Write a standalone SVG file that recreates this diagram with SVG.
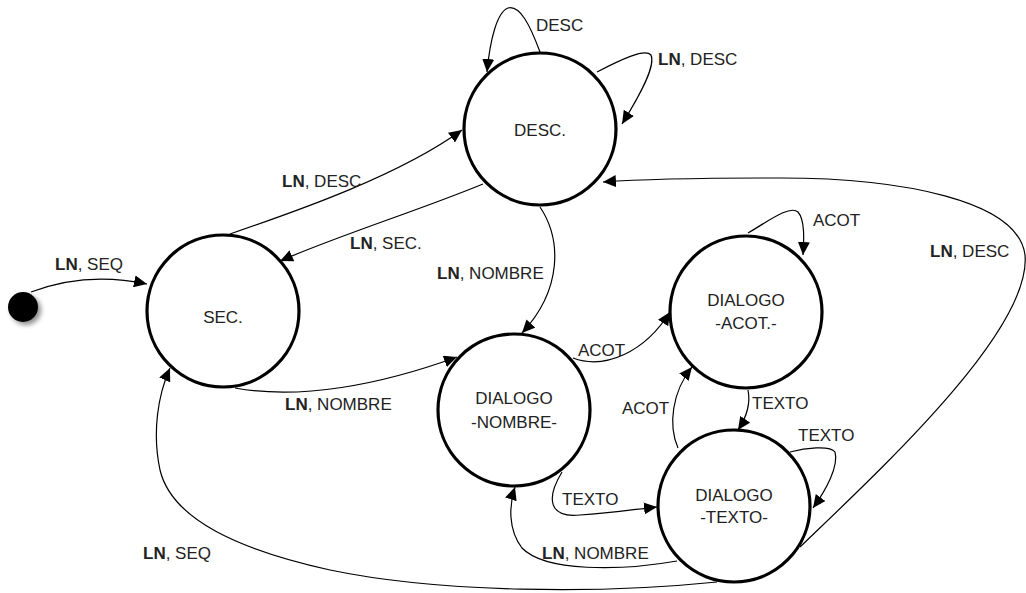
<svg xmlns="http://www.w3.org/2000/svg" width="1026" height="593" viewBox="0 0 1026 593">
  <style>
    .state { fill: #ffffff; stroke: #000000; stroke-width: 3.2; }
    .name { font-family: "Liberation Sans", Arial, sans-serif; font-size: 17px; fill: #222222; text-anchor: middle; }
    .edge { fill: none; stroke: #000000; stroke-width: 1.2; marker-end: url(#arrow); }
    .lbl { font-family: "Liberation Sans", Arial, sans-serif; font-size: 17px; fill: #222222; }
    .lbl tspan.b { font-weight: bold; }
  </style>
  <defs>
    <marker id="arrow" markerUnits="userSpaceOnUse" markerWidth="14" markerHeight="12" refX="13" refY="6" orient="auto">
      <path d="M0,0 L13,6 L0,12 Z" fill="#000000"/>
    </marker>
    <filter id="shadow" x="-50%" y="-50%" width="200%" height="200%">
      <feGaussianBlur in="SourceAlpha" stdDeviation="2.5"/>
      <feOffset dx="3" dy="3" result="b"/>
      <feComponentTransfer><feFuncA type="linear" slope="0.45"/></feComponentTransfer>
      <feMerge><feMergeNode/><feMergeNode in="SourceGraphic"/></feMerge>
    </filter>
  </defs>
  <rect width="1026" height="593" fill="#ffffff"/>

  <!-- transitions -->
  <g id="connectors">
    <path class="edge" d="M31,292 C60,281 100,274 147,284"/>
    <path class="edge" d="M230,234 C300,210 400,175 462,130"/>
    <path class="edge" d="M483,184 C420,210 340,235 280,261"/>
    <path class="edge" d="M540,207 C562,240 562,290 522,333"/>
    <path class="edge" d="M235,388 C300,400 380,385 457,357"/>
    <path class="edge" d="M573,358 C605,370 645,352 670,312"/>
    <path class="edge" d="M748,390 C751,405 746,418 738,430"/>
    <path class="edge" d="M678,448 C668,425 672,392 692,367"/>
    <path class="edge" d="M562,472 C545,500 550,518 580,515 C610,513 630,510 657,507"/>
    <path class="edge" d="M677,561 C620,571 545,572 522,548 C508,530 509,505 515,487"/>
    <path class="edge" d="M717,582 C600,594 440,593 330,570 C240,550 172,520 160,470 C152,432 158,395 170,368"/>
    <path class="edge" d="M800,547 C880,470 1032,330 1025,255 C1018,200 900,178 780,178 C700,178 645,179 603,182"/>
    <path class="edge" d="M540,52 C530,25 520,5 508,8 C497,12 490,40 487,72"/>
    <path class="edge" d="M597,72 C620,60 645,48 651,55 C656,66 640,95 622,124"/>
    <path class="edge" d="M748,233 C770,220 790,205 798,212 C805,220 804,240 803,255"/>
    <path class="edge" d="M790,452 C805,448 830,445 835,452 C839,466 826,490 813,508"/>

    <text class="lbl" x="55" y="270"><tspan class="b">LN</tspan>, SEQ</text>
    <text class="lbl" x="282" y="187"><tspan class="b">LN</tspan>, DESC</text>
    <text class="lbl" x="350" y="249"><tspan class="b">LN</tspan>, SEC.</text>
    <text class="lbl" x="437" y="279"><tspan class="b">LN</tspan>, NOMBRE</text>
    <text class="lbl" x="285" y="410"><tspan class="b">LN</tspan>, NOMBRE</text>
    <text class="lbl" x="578" y="356">ACOT</text>
    <text class="lbl" x="752" y="409">TEXTO</text>
    <text class="lbl" x="622" y="414">ACOT</text>
    <text class="lbl" x="562" y="505">TEXTO</text>
    <text class="lbl" x="542" y="559"><tspan class="b">LN</tspan>, NOMBRE</text>
    <text class="lbl" x="143" y="559"><tspan class="b">LN</tspan>, SEQ</text>
    <text class="lbl" x="930" y="257"><tspan class="b">LN</tspan>, DESC</text>
    <text class="lbl" x="536" y="31">DESC</text>
    <text class="lbl" x="658" y="65"><tspan class="b">LN</tspan>, DESC</text>
    <text class="lbl" x="813" y="226">ACOT</text>
    <text class="lbl" x="798" y="441">TEXTO</text>
  </g>

  <!-- initial pseudo-state -->
  <g id="start">
    <circle cx="23" cy="307" r="15" fill="#000000" filter="url(#shadow)"/>
  </g>

  <g id="desc">
    <circle class="state" cx="540" cy="129" r="76"/>
    <text class="name" x="540" y="136">DESC.</text>
  </g>

  <g id="sec">
    <circle class="state" cx="223" cy="311" r="76"/>
    <text class="name" x="223" y="323">SEC.</text>
  </g>

  <g id="dialogo-nombre">
    <circle class="state" cx="514" cy="410" r="76"/>
    <text class="name" x="514" y="404">DIALOGO</text>
    <text class="name" x="514" y="428">-NOMBRE-</text>
  </g>

  <g id="dialogo-acot">
    <circle class="state" cx="746" cy="312" r="76"/>
    <text class="name" x="746" y="306">DIALOGO</text>
    <text class="name" x="746" y="329">-ACOT.-</text>
  </g>

  <g id="dialogo-texto">
    <circle class="state" cx="734" cy="506" r="76"/>
    <text class="name" x="734" y="501">DIALOGO</text>
    <text class="name" x="734" y="523">-TEXTO-</text>
  </g>
</svg>
